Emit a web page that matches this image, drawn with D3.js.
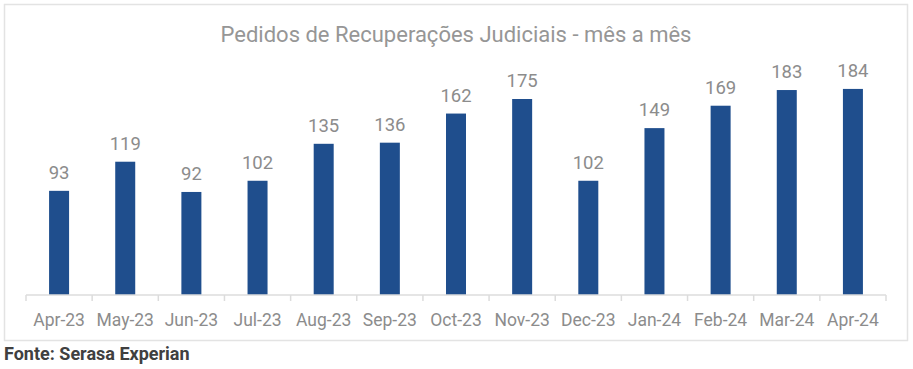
<!DOCTYPE html>
<html><head><meta charset="utf-8">
<script src="https://cdn.jsdelivr.net/npm/d3@7"></script>
<style>body{margin:0;background:#fff;font-family:Roboto,sans-serif}</style>
</head><body><svg id="c" width="913" height="369"></svg>
<script>
const categories = ["Apr-23","May-23","Jun-23","Jul-23","Aug-23","Sep-23","Oct-23","Nov-23","Dec-23","Jan-24","Feb-24","Mar-24","Apr-24"];
const values = [93,119,92,102,135,136,162,175,102,149,169,183,184];
const title = "Pedidos de Recuperações Judiciais - mês a mês";
const source = "Fonte: Serasa Experian";

const svg = d3.select("#c");
svg.append("rect").attr("x",4.5).attr("y",4.5).attr("width",903).attr("height",336)
  .attr("fill","#fff").attr("stroke","#e3e3e3").attr("stroke-width",1.5);

const x = d3.scaleBand().domain(categories).range([26,886]).paddingInner(0).paddingOuter(0);
const y = d3.scaleLinear().domain([0,200]).range([295,71]);

svg.append("text").attr("x",456).attr("y",42).attr("text-anchor","middle")
  .attr("font-size",22).attr("fill","#969696").text(title);

svg.selectAll("rect.bar").data(values).join("rect").attr("class","bar")
  .attr("x",(d,i)=>x(categories[i])+x.bandwidth()/2-10).attr("width",20)
  .attr("y",d=>y(d)).attr("height",d=>y(0)-y(d)).attr("fill","#1f4e8d");

svg.selectAll("text.val").data(values).join("text").attr("class","val")
  .attr("x",(d,i)=>x(categories[i])+x.bandwidth()/2).attr("y",d=>y(d)-12)
  .attr("text-anchor","middle").attr("font-size",18.5).attr("fill","#8c8c8c").text(d=>d);

const ax = svg.append("g").attr("transform","translate(0,295)");
ax.append("line").attr("x1",26).attr("x2",886).attr("stroke","#dcdcdc").attr("stroke-width",1.5);
const ticks = categories.map(c=>x(c)).concat([886]);
ax.selectAll("line.t").data(ticks).join("line").attr("class","t")
  .attr("x1",d=>d).attr("x2",d=>d).attr("y1",0).attr("y2",6).attr("stroke","#dcdcdc").attr("stroke-width",1.5);
ax.selectAll("text").data(categories).join("text")
  .attr("x",d=>x(d)+x.bandwidth()/2).attr("y",31).attr("text-anchor","middle")
  .attr("font-size",17.5).attr("fill","#8c8c8c").text(d=>d);

svg.append("text").attr("x",4).attr("y",360).attr("font-size",18).attr("font-weight","bold")
  .attr("fill","#404040").text(source);
</script></body></html>
